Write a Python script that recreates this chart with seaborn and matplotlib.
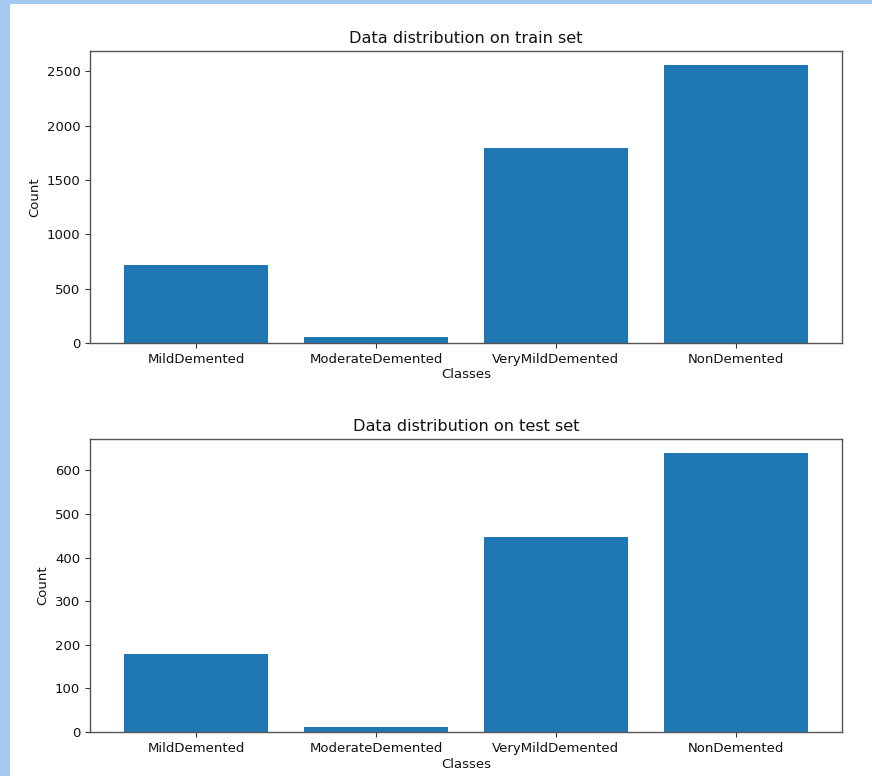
import matplotlib
matplotlib.use("Agg")
import matplotlib.pyplot as plt
import seaborn as sns
import pandas as pd
from matplotlib.patches import Rectangle

classes = ["MildDemented", "ModerateDemented", "VeryMildDemented", "NonDemented"]
train_counts = [717, 52, 1792, 2560]
test_counts = [179, 12, 448, 640]

sns.set_style("ticks")
plt.rcParams['font.family'] = ['DejaVu Sans']
plt.rcParams['text.color'] = '#111111'
plt.rcParams['axes.labelcolor'] = '#111111'
plt.rcParams['xtick.labelcolor'] = '#111111'
plt.rcParams['ytick.labelcolor'] = '#111111'

fig = plt.figure(figsize=(8.72, 7.76), dpi=100)
fig.patch.set_facecolor("#a4c8f0")
fig.patches.append(Rectangle((10/872, 0), 1 - 10/872, 1 - 4/776, transform=fig.transFigure,
                             facecolor="white", edgecolor="none", zorder=-1))

W, H = 872, 776
def axes_rect(l, t, r, b):
    return [l / W, 1 - b / H, (r - l) / W, (b - t) / H]

ax1 = fig.add_axes(axes_rect(90, 51, 842, 343))
ax2 = fig.add_axes(axes_rect(90, 439, 842, 732))

for ax, counts, title in [(ax1, train_counts, "Data distribution on train set"),
                          (ax2, test_counts, "Data distribution on test set")]:
    df = pd.DataFrame({"Classes": classes, "Count": counts})
    sns.barplot(data=df, x="Classes", y="Count", ax=ax, color="#1f77b4",
                saturation=1, width=0.8, edgecolor="none")
    ax.set_xlim(-0.59, 3.59)
    ax.set_ylim(0, max(counts) * 1.05)
    ax.set_title(title, fontsize=11.6, pad=6, color="#111111")
    ax.set_xlabel("Classes", fontsize=9.5, labelpad=2)
    ax.set_ylabel("Count", fontsize=9.5)
    ax.tick_params(labelsize=9.5, length=3.5, color="#333333")
    for s in ax.spines.values():
        s.set_visible(True)
        s.set_color("#555555")
        s.set_linewidth(1.0)

fig.savefig("out.png", dpi=100, facecolor=fig.get_facecolor())
